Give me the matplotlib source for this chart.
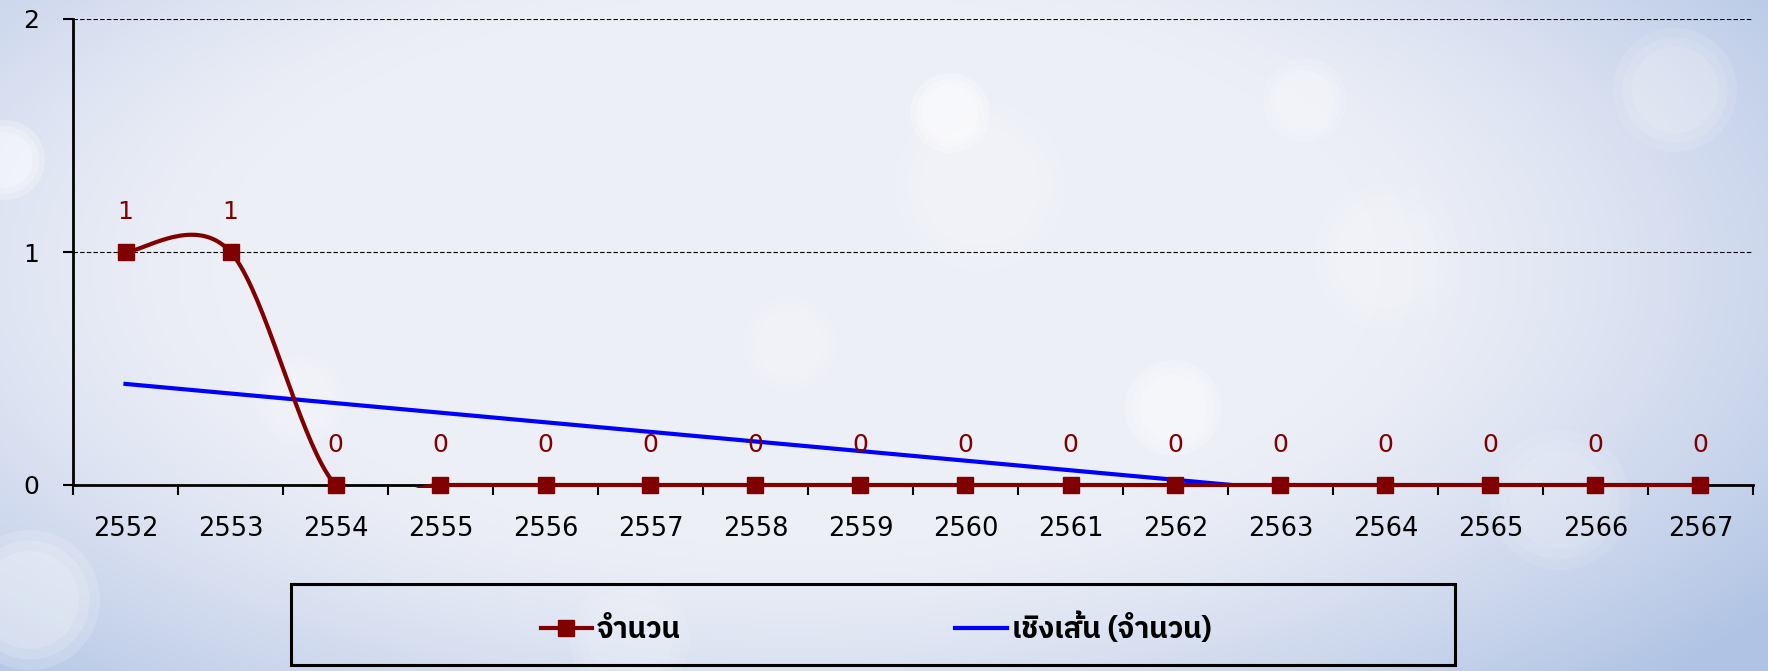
import numpy as np
import matplotlib
matplotlib.use('Agg')
import matplotlib.pyplot as plt
from matplotlib import font_manager
from matplotlib.ft2font import FT2Font
from matplotlib.lines import Line2D
from matplotlib.patches import Rectangle, Circle
from matplotlib.transforms import Bbox, TransformedBbox

# data
years = ['2552', '2553', '2554', '2555', '2556', '2557', '2558', '2559',
         '2560', '2561', '2562', '2563', '2564', '2565', '2566', '2567']
counts = [1, 1, 0, 0, 0, 0, 0, 0, 0, 0, 0, 0, 0, 0, 0, 0]
series_label = 'จำนวน'
trend_label = 'เชิงเส้น (จำนวน)'

RED = '#800000'
BLUE = '#0000ff'


def find_thai_font():
    # look for any installed font that has Thai glyphs
    entries = sorted(font_manager.fontManager.ttflist,
                     key=lambda f: 0 if 'thai' in f.name.lower() else 1)
    seen = set()
    for fe in entries:
        if fe.fname in seen:
            continue
        seen.add(fe.fname)
        try:
            if 0x0E08 in FT2Font(fe.fname).get_charmap():
                return fe.name
        except Exception:
            continue
    return 'DejaVu Sans'


def excel_smooth(x, y, n=40):
    # cubic bezier through the points, control points like Excel's smoothed line
    x = np.asarray(x, float)
    y = np.asarray(y, float)
    xs, ys = [], []
    m = len(x)
    for i in range(m - 1):
        i0 = max(i - 1, 0)
        i3 = min(i + 2, m - 1)
        p0 = np.array([x[i], y[i]])
        p3 = np.array([x[i + 1], y[i + 1]])
        c1 = p0 + (p3 - np.array([x[i0], y[i0]])) / 6.0
        c2 = p3 - (np.array([x[i3], y[i3]]) - p0) / 6.0
        t = np.linspace(0, 1, n)[:, None]
        pts = (1 - t)**3 * p0 + 3 * (1 - t)**2 * t * c1 + 3 * (1 - t) * t**2 * c2 + t**3 * p3
        xs.append(pts[:, 0])
        ys.append(pts[:, 1])
    return np.concatenate(xs), np.concatenate(ys)


thai_font = find_thai_font()

W, H = 1768, 671
fig = plt.figure(figsize=(W / 100, H / 100), dpi=100)

# background: light lavender with bluish corners and a few soft bokeh spots
bg = fig.add_axes([0, 0, 1, 1], zorder=-10)
yy, xx = np.mgrid[0:H, 0:W]
d = np.sqrt(((xx - W * 0.45) / (W * 0.6))**2 + ((yy - H * 0.4) / (H * 0.75))**2)
w = np.clip((d - 0.55) / 0.6, 0, 1)**1.3
c_in = np.array([237, 239, 247]) / 255.0
c_out = np.array([176, 195, 228]) / 255.0
img = c_in[None, None, :] * (1 - w[..., None]) + c_out[None, None, :] * w[..., None]
bg.imshow(img, extent=[0, W, H, 0], aspect='auto')
for (cx, cy, r, a) in [(980, 186, 85, 0.22), (950, 113, 40, 0.55), (1387, 257, 73, 0.2),
                       (1675, 90, 62, 0.25), (1173, 408, 48, 0.45), (790, 344, 47, 0.25),
                       (5, 160, 40, 0.55), (30, 600, 70, 0.35), (1305, 100, 42, 0.3),
                       (300, 400, 45, 0.25), (630, 640, 60, 0.2), (1560, 500, 70, 0.2)]:
    for f in (1.0, 0.85, 0.7):
        bg.add_patch(Circle((cx, cy), r * f, color='white', alpha=a / 2.2, lw=0))
bg.set_xlim(0, W)
bg.set_ylim(H, 0)
bg.axis('off')

ax = fig.add_axes([73 / W, 1 - 485 / H, (1753 - 73) / W, (485 - 19) / H])
ax.patch.set_alpha(0)

x = np.arange(len(years))
y = np.array(counts, float)

clip_red = TransformedBbox(Bbox([[-0.5, -0.012], [len(years) - 0.5, 2.0]]), ax.transData)
clip_blue = TransformedBbox(Bbox([[-0.5, -0.006], [len(years) - 0.5, 2.0]]), ax.transData)

# linear trend line fitted on the series
k, b = np.polyfit(x, y, 1)
tline, = ax.plot(x, k * x + b, color=BLUE, lw=3, zorder=3)
tline.set_clip_box(clip_blue)

sx, sy = excel_smooth(x, y)
cline, = ax.plot(sx, sy, color=RED, lw=3, zorder=4)
cline.set_clip_box(clip_red)
ax.plot(x, y, ls='none', marker='s', ms=12, color=RED, zorder=5, clip_on=False)

for xi, yi in zip(x, counts):
    ax.annotate(str(yi), (xi, yi), xytext=(0, 29), textcoords='offset points',
                ha='center', va='center', color=RED, fontsize=18)

ax.set_xlim(-0.5, len(years) - 0.5)
ax.set_ylim(0, 2)
ax.set_yticks([0, 1, 2])
ax.set_xticks(x)
ax.set_xticklabels(years)
ax.set_xticks(np.arange(-0.5, len(years)), minor=True)
ax.tick_params(axis='x', which='major', length=0, pad=22, labelsize=18.5)
ax.tick_params(axis='x', which='minor', length=7, width=1.5, direction='out')
ax.tick_params(axis='y', length=7, width=1.5, direction='out', pad=23, labelsize=18)
for lab in ax.get_yticklabels():
    lab.set_horizontalalignment('center')

ax.yaxis.grid(True, color='black', ls=(0, (4, 2)), lw=0.8)
ax.set_axisbelow(True)
for s in ['top', 'right']:
    ax.spines[s].set_visible(False)
for s in ['left', 'bottom']:
    ax.spines[s].set_linewidth(2)

# legend box
fig.add_artist(Rectangle((291 / W, 1 - 665 / H), (1455 - 291) / W, (665 - 584) / H,
                         transform=fig.transFigure, fill=False, ec='black', lw=2.2))
handles = [Line2D([], [], color=RED, lw=3, marker='s', ms=11),
           Line2D([], [], color=BLUE, lw=3)]
fig.legend(handles, [series_label, trend_label], loc='center',
           bbox_to_anchor=(876 / W, 1 - 628 / H), ncol=2, frameon=False,
           prop={'family': [thai_font, 'DejaVu Sans'], 'size': 21, 'weight': 'bold'},
           handlelength=1.76, handletextpad=0.18, columnspacing=9.4)

fig.savefig('out.png', dpi=100)
